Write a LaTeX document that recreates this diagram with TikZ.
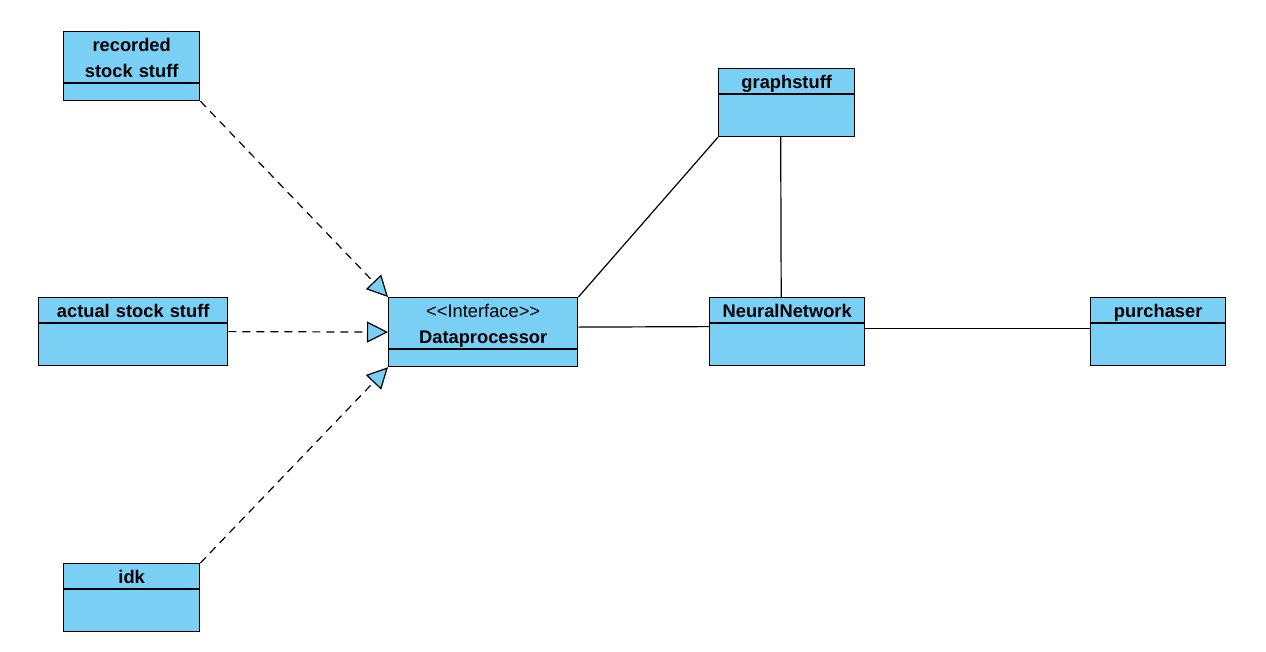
\documentclass[tikz,border=0pt]{standalone}
\usepackage{fontspec}
\setmainfont{Liberation Sans}[Ligatures=TeXOff]
\usetikzlibrary{arrows.meta,shapes.multipart}
\definecolor{classblue}{RGB}{122,207,245}
\newcommand{\clsline}{\rule[-5pt]{0pt}{24pt}}
\begin{document}
\begin{tikzpicture}[x=1pt,y=-1pt,
		classbox/.style={draw,line width=1.4pt,fill=classblue,rectangle split,rectangle split parts=2,
			inner xsep=0pt,inner ysep=0pt,align=center,anchor=north west,
			font=\fontsize{18.3}{26}\selectfont\bfseries,
			rectangle split empty part depth=0pt},
		realize/.style={draw,line width=1.2pt,dash pattern=on 8pt off 6pt,
			-{Triangle[length=21pt,width=21pt,fill=classblue]}},
		assoc/.style={draw,line width=1.2pt}]
		\useasboundingbox (0,0) rectangle (1266,651);
		% classes
		\node (recorded) [classbox,text width=136pt,rectangle split empty part height=16pt] at (63,31) {\clsline recorded\\\clsline stock stuff};
		\node (actual) [classbox,text width=189pt,rectangle split empty part height=41pt] at (38,297) {\clsline actual stock stuff};
		\node (idk) [classbox,text width=136pt,rectangle split empty part height=41pt] at (63,563) {\clsline idk};
		\node (dataproc) [classbox,text width=189pt,rectangle split empty part height=16pt] at (388,297) {\clsline{\mdseries <<Interface>>}\\\clsline Dataprocessor};
		\node (graph) [classbox,text width=136pt,rectangle split empty part height=41pt] at (718,68) {\clsline graphstuff};
		\node (neural) [classbox,text width=155pt,rectangle split empty part height=41pt] at (709,297) {\clsline NeuralNetwork};
		\node (purchaser) [classbox,text width=135pt,rectangle split empty part height=41pt] at (1090,297) {\clsline purchaser};
		% realizations
		\draw [realize] (recorded.south east) -- (dataproc.north west);
		\draw [realize] (actual.east) -- (dataproc.west);
		\draw [realize] (idk.north east) -- (dataproc.south west);
		% associations
		\draw [assoc] (dataproc.north east) -- (graph.south west);
		\draw [assoc] ([yshift=5pt]dataproc.east) -- ([yshift=5pt]neural.west);
		\draw [assoc] ([xshift=-6pt]graph.south) -- ([xshift=-6pt]neural.north);
		\draw [assoc] ([yshift=3pt]neural.east) -- ([yshift=3pt]purchaser.west);
	\end{tikzpicture}
\end{document}
